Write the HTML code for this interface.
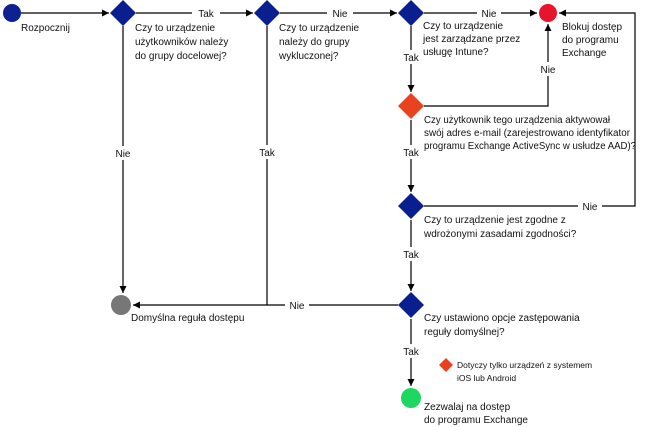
<!DOCTYPE html>
<html><head><meta charset="utf-8"><style>
body{margin:0;background:#fff}
svg{display:block}
text{font-family:"Liberation Sans",sans-serif;font-size:10px;fill:#111}
.s{font-size:8.5px}
</style></head><body>
<svg width="645" height="427" viewBox="0 0 645 427">
<defs><marker id="a" markerWidth="8" markerHeight="8" refX="7" refY="4" orient="auto" markerUnits="userSpaceOnUse"><path d="M0,0.5 L7,4 L0,7.5 z" fill="#000"/></marker></defs>
<g stroke="#000" stroke-width="1.2" fill="none">
<line x1="21" y1="13" x2="109" y2="13" marker-end="url(#a)"/>
<line x1="136" y1="13" x2="253" y2="13" marker-end="url(#a)"/>
<line x1="280" y1="13" x2="397" y2="13" marker-end="url(#a)"/>
<line x1="424" y1="13" x2="537" y2="13" marker-end="url(#a)"/>
<polyline points="424,206 635,206 635,13 559,13" marker-end="url(#a)"/>
<polyline points="424,106 548,106 548,24" marker-end="url(#a)"/>
<line x1="123" y1="26" x2="123" y2="293" marker-end="url(#a)"/>
<polyline points="267,26 267,305 133,305" marker-end="url(#a)"/>
<line x1="398" y1="305" x2="267" y2="305"/>
<line x1="411" y1="26" x2="411" y2="92" marker-end="url(#a)"/>
<line x1="411" y1="120" x2="411" y2="192" marker-end="url(#a)"/>
<line x1="411" y1="220" x2="411" y2="291" marker-end="url(#a)"/>
<line x1="411" y1="319" x2="411" y2="386" marker-end="url(#a)"/>
</g>
<g fill="#fff">
<rect x="192" y="6" width="28" height="14"/><rect x="327" y="6" width="26" height="14"/><rect x="477" y="6" width="24" height="14"/>
<rect x="578" y="199" width="24" height="14"/><rect x="536" y="62" width="24" height="14"/>
<rect x="112" y="146" width="22" height="14"/><rect x="256" y="145" width="22" height="14"/><rect x="285" y="298" width="24" height="14"/>
<rect x="400" y="50" width="22" height="14"/><rect x="400" y="145" width="22" height="14"/><rect x="400" y="247" width="22" height="14"/><rect x="400" y="344" width="22" height="14"/>
</g>
<circle cx="12" cy="13" r="9" fill="#0d2290"/>
<circle cx="548" cy="13" r="9" fill="#e8142e"/>
<circle cx="121" cy="305" r="10" fill="#777"/>
<circle cx="411" cy="398" r="10" fill="#1ed760"/>
<g fill="#0a1f8f">
<path d="M123,0 L136,13 L123,26 L110,13z"/>
<path d="M267,0 L280,13 L267,26 L254,13z"/>
<path d="M411,0 L424,13 L411,26 L398,13z"/>
<path d="M411,193 L424,206 L411,219 L398,206z"/>
<path d="M411,292 L424,305 L411,318 L398,305z"/>
</g>
<path d="M411,93 L424,106 L411,119 L398,106z" fill="#e8431e"/>
<path d="M446,358 L453,365 L446,372 L439,365z" fill="#e8431e"/>
<g text-anchor="middle">
<text x="206" y="17">Tak</text><text x="340" y="17">Nie</text><text x="489" y="17">Nie</text>
<text x="590" y="210">Nie</text><text x="548" y="73">Nie</text>
<text x="123" y="157">Nie</text><text x="267" y="156">Tak</text><text x="297" y="309">Nie</text>
<text x="411" y="61">Tak</text><text x="411" y="156">Tak</text><text x="411" y="258">Tak</text><text x="411" y="355">Tak</text>
</g>
<text x="21" y="31">Rozpocznij</text>
<text x="135" y="31">Czy to urządzenie</text><text x="135" y="45">użytkowników należy</text><text x="135" y="59">do grupy docelowej?</text>
<text x="279" y="31">Czy to urządzenie</text><text x="279" y="45">należy do grupy</text><text x="279" y="59">wykluczonej?</text>
<text x="423" y="29">Czy to urządzenie</text><text x="423" y="42">jest zarządzane przez</text><text x="423" y="55">usługę Intune?</text>
<text x="562" y="30">Blokuj dostęp</text><text x="562" y="43">do programu</text><text x="562" y="56">Exchange</text>
<text x="424" y="123" textLength="186" lengthAdjust="spacingAndGlyphs">Czy użytkownik tego urządzenia aktywował</text><text x="424" y="136" textLength="206" lengthAdjust="spacingAndGlyphs">swój adres e-mail (zarejestrowano identyfikator</text><text x="424" y="149" textLength="212" lengthAdjust="spacingAndGlyphs">programu Exchange ActiveSync w usłudze AAD)?</text>
<text x="424" y="223">Czy to urządzenie jest zgodne z</text><text x="424" y="237">wdrożonymi zasadami zgodności?</text>
<text x="424" y="321">Czy ustawiono opcje zastępowania</text><text x="424" y="335">reguły domyślnej?</text>
<text x="131" y="321">Domyślna reguła dostępu</text>
<text x="424" y="410">Zezwalaj na dostęp</text><text x="424" y="423">do programu Exchange</text>
<text class="s" x="457" y="368">Dotyczy tylko urządzeń z systemem</text><text class="s" x="457" y="381">iOS lub Android</text>
</svg>
</body></html>
